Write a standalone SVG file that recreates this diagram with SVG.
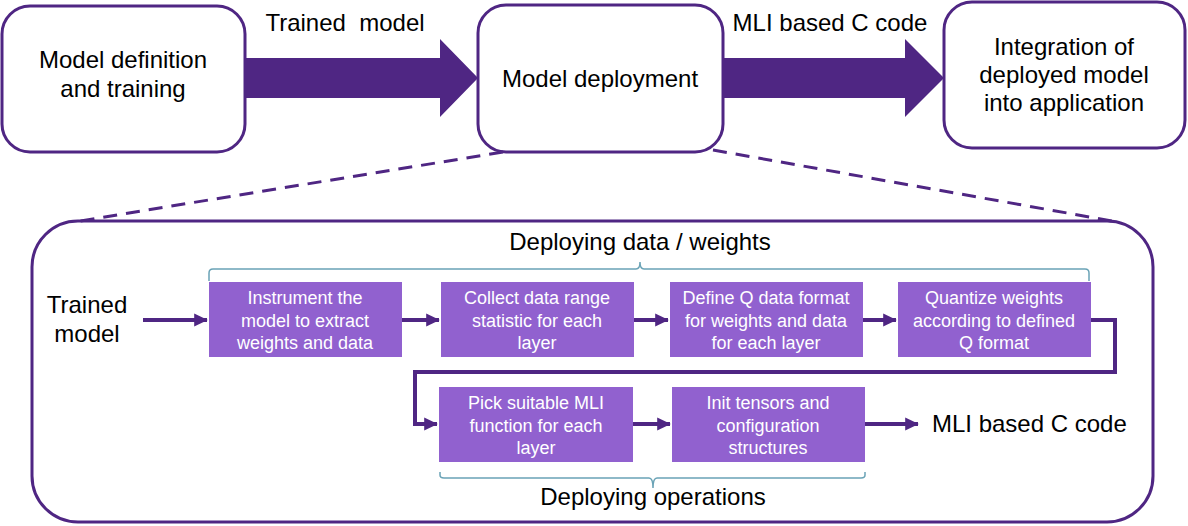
<svg xmlns="http://www.w3.org/2000/svg" width="1188" height="526" viewBox="0 0 1188 526">
<defs>
<style>
.top{fill:#fff;stroke:#4f2683;stroke-width:3}
.t{font-family:"Liberation Sans",Arial,sans-serif;font-size:24px;fill:#000}
.bx{fill:#9161cf}
.bt{font-family:"Liberation Sans",Arial,sans-serif;font-size:18px;fill:#fff;text-anchor:middle}
.fat{fill:#4f2683}
.ln{fill:none;stroke:#4f2683;stroke-width:4}
.br{fill:none;stroke:#6aa3b6;stroke-width:1.5}
.dash{fill:none;stroke:#4f2683;stroke-width:3;stroke-dasharray:14 9}
</style>
<marker id="ah" markerWidth="4" markerHeight="4" refX="3.2" refY="2" orient="auto" markerUnits="strokeWidth">
<path d="M0,0.4 L3.4,2 L0,3.6 Z" fill="#4f2683"/>
</marker>
</defs>

<g id="n-def">
<rect class="top" x="2" y="6" width="243" height="146" rx="28"/>
<text class="t" x="123" y="68" text-anchor="middle">Model definition</text>
<text class="t" x="123" y="97" text-anchor="middle">and training</text>
</g>
<g id="n-deploy">
<rect class="top" x="478" y="5" width="245" height="147" rx="28"/>
<text class="t" x="600" y="87" text-anchor="middle">Model deployment</text>
</g>
<g id="n-integ">
<rect class="top" x="944" y="2" width="241" height="146" rx="28"/>
<text class="t" x="1064" y="55" text-anchor="middle">Integration of</text>
<text class="t" x="1064" y="83" text-anchor="middle">deployed model</text>
<text class="t" x="1064" y="111" text-anchor="middle">into application</text>
</g>

<g id="connectors">
<path class="fat" d="M245,58 H440 V39 L478,78 L440,117 V98 H245 Z"/>
<text class="t" x="345" y="31" text-anchor="middle">Trained&#160; model</text>
<path class="fat" d="M723,58 H905 V39 L944,78 L905,117 V98 H723 Z"/>
<text class="t" x="830" y="31" text-anchor="middle">MLI based C code</text>
<path class="dash" d="M503,152 L80,221"/>
<path class="dash" d="M713,150 L1112,221"/>

<path class="ln" d="M143,320 H207" marker-end="url(#ah)"/>
<path class="ln" d="M402,320 H439" marker-end="url(#ah)"/>
<path class="ln" d="M634,320 H668" marker-end="url(#ah)"/>
<path class="ln" d="M863,320 H896" marker-end="url(#ah)"/>
<path class="ln" d="M1091,320 H1115 V372 H415 V424 H437" marker-end="url(#ah)"/>
<path class="ln" d="M633,424 H670" marker-end="url(#ah)"/>
<path class="ln" d="M865,424 H918" marker-end="url(#ah)"/>
</g>

<g id="container">
<rect x="32" y="221" width="1121" height="301" rx="46" fill="none" stroke="#4f2683" stroke-width="3"/>
</g>

<g id="labels">
<text class="t" x="640" y="250" text-anchor="middle">Deploying data / weights</text>
<path class="br" d="M209,281 V273 Q209,269 213,269 H636 Q640,269 640,262 Q640,269 644,269 H1085 Q1089,269 1089,273 V281"/>
<text class="t" x="87" y="313" text-anchor="middle">Trained</text>
<text class="t" x="87" y="342" text-anchor="middle">model</text>
<text class="t" x="932" y="432">MLI based C code</text>
<path class="br" d="M440,472 V475 Q440,478 444,478 H649 Q653,478 653,488 Q653,478 657,478 H861 Q865,478 865,475 V472"/>
<text class="t" x="653" y="505" text-anchor="middle">Deploying operations</text>
</g>

<g id="n-instr">
<rect class="bx" x="209" y="282" width="193" height="75"/>
<text class="bt" x="305" y="304">Instrument the</text>
<text class="bt" x="305" y="327">model to extract</text>
<text class="bt" x="305" y="349">weights and data</text>
</g>
<g id="n-collect">
<rect class="bx" x="441" y="282" width="193" height="75"/>
<text class="bt" x="537" y="304">Collect data range</text>
<text class="bt" x="537" y="327">statistic for each</text>
<text class="bt" x="537" y="349">layer</text>
</g>
<g id="n-defq">
<rect class="bx" x="670" y="282" width="193" height="75"/>
<text class="bt" x="766" y="304">Define Q data format</text>
<text class="bt" x="766" y="327">for weights and data</text>
<text class="bt" x="766" y="349">for each layer</text>
</g>
<g id="n-quant">
<rect class="bx" x="898" y="282" width="193" height="75"/>
<text class="bt" x="994" y="304">Quantize weights</text>
<text class="bt" x="994" y="327">according to defined</text>
<text class="bt" x="994" y="349">Q format</text>
</g>
<g id="n-pick">
<rect class="bx" x="439" y="387" width="194" height="75"/>
<text class="bt" x="536" y="409">Pick suitable MLI</text>
<text class="bt" x="536" y="432">function for each</text>
<text class="bt" x="536" y="454">layer</text>
</g>
<g id="n-init">
<rect class="bx" x="672" y="387" width="193" height="75"/>
<text class="bt" x="768" y="409">Init tensors and</text>
<text class="bt" x="768" y="432">configuration</text>
<text class="bt" x="768" y="454">structures</text>
</g>
</svg>
